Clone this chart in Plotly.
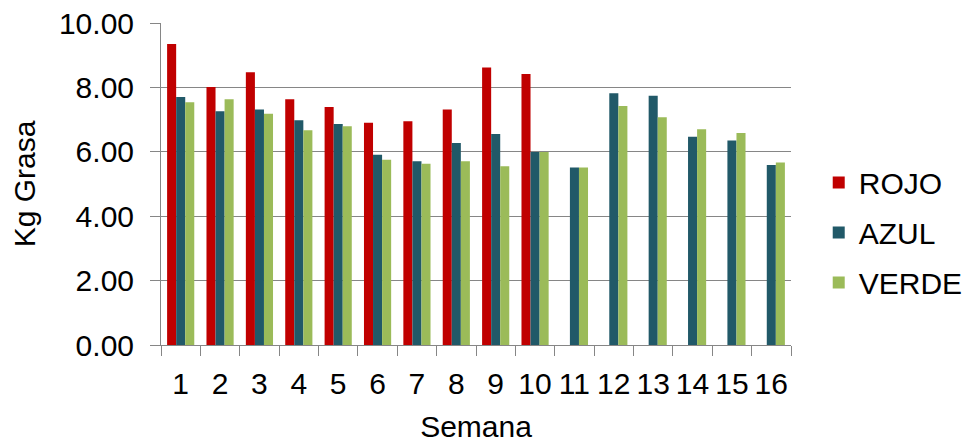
import plotly.graph_objects as go

semanas = [str(i) for i in range(1, 17)]
rojo = [9.35, 8.01, 8.47, 7.63, 7.39, 6.90, 6.95, 7.31, 8.62, 8.42,
        None, None, None, None, None, None]
azul = [7.70, 7.26, 7.31, 6.98, 6.86, 5.91, 5.71, 6.27, 6.55, 5.99,
        5.51, 7.82, 7.74, 6.47, 6.35, 5.59]
verde = [7.54, 7.63, 7.18, 6.67, 6.79, 5.75, 5.63, 5.71, 5.55, 5.99,
         5.51, 7.42, 7.07, 6.70, 6.58, 5.67]
y_ticks = [0, 2, 4, 6, 8, 10]

FONT = "Liberation Sans, Arial, sans-serif"

fig = go.Figure()
for name, vals, col in [("ROJO", rojo, "#C00000"),
                        ("AZUL", azul, "#215968"),
                        ("VERDE", verde, "#9BBB59")]:
    fig.add_trace(go.Bar(x=semanas, y=vals, name=name, marker_color=col,
                         marker_line_width=0, legendgroup=name))

# the page body has an 8px margin, so the figure is 8px smaller each way
fig.update_layout(
    width=964, height=436,
    margin=dict(l=153, r=181, t=15, b=99, autoexpand=False),
    paper_bgcolor="white", plot_bgcolor="white",
    barmode="group", bargap=0.31, bargroupgap=0,
    font=dict(family=FONT, size=30, color="#000000"),
    showlegend=True,
    legend=dict(x=0.841, xanchor="left", y=0.485, yanchor="middle",
                xref="container", yref="container",
                font=dict(size=30, family=FONT),
                tracegroupgap=8, traceorder="grouped",
                bgcolor="rgba(0,0,0,0)", itemwidth=30),
)
fig.update_xaxes(
    type="category", tickson="boundaries", ticks="outside", ticklen=10,
    tickcolor="#868686", showline=True, linecolor="#868686", linewidth=1,
    showgrid=False, tickfont=dict(size=30), ticklabelstandoff=12,
    tickangle=0, automargin=False, ticklabeloverflow="allow",
    title=dict(text="Semana", font=dict(size=30), standoff=16),
)
fig.update_yaxes(
    range=[0, 10], tickvals=y_ticks, tickformat=".2f", ticks="outside",
    ticklen=10, tickcolor="#868686", showline=True, linecolor="#868686",
    linewidth=1, showgrid=True, gridcolor="#868686", gridwidth=1,
    zeroline=False, tickfont=dict(size=30), ticklabelstandoff=10,
    automargin=False, ticklabeloverflow="allow",
    title=dict(text="Kg Grasa", font=dict(size=30), standoff=26),
)

fig.write_html("out.html")
